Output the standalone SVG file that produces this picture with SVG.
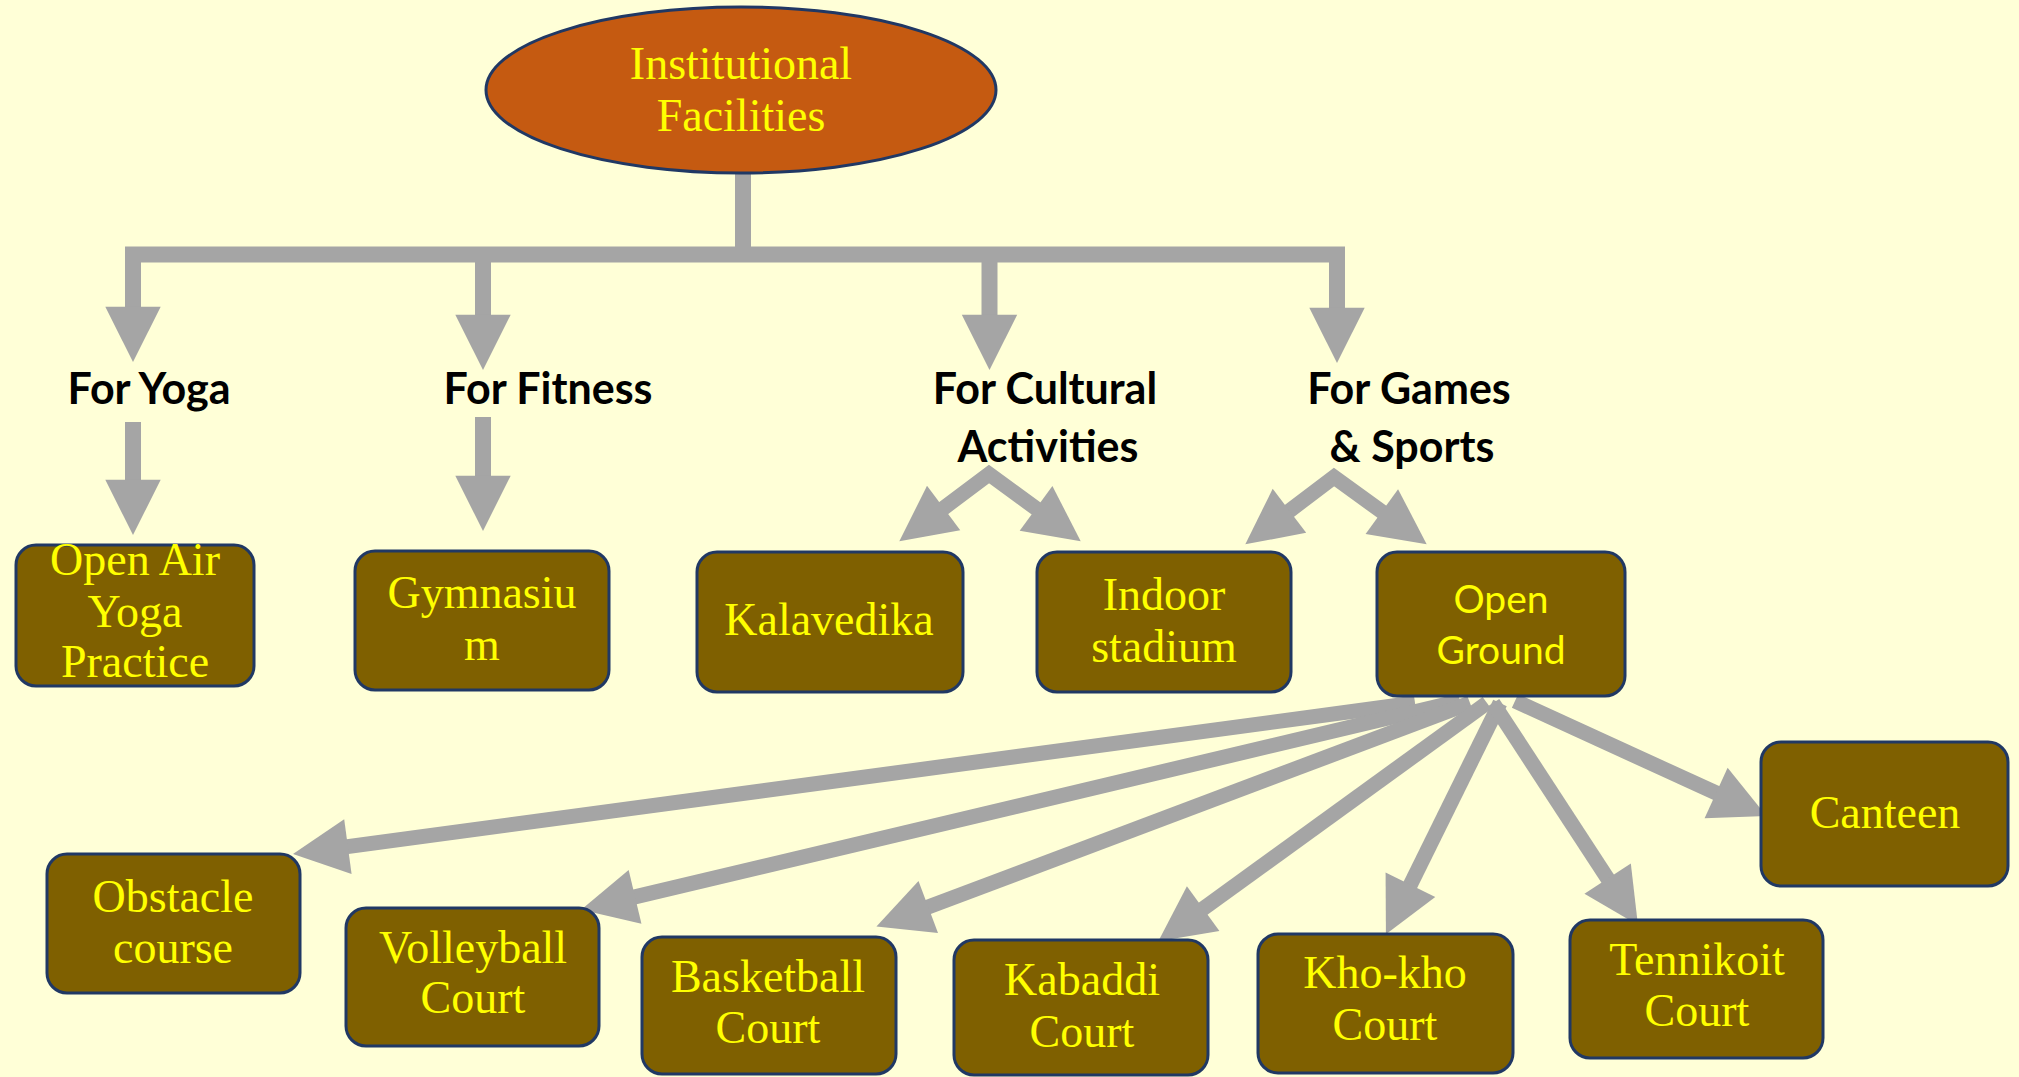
<svg xmlns="http://www.w3.org/2000/svg" width="2019" height="1077" viewBox="0 0 2019 1077">
<defs>
<marker id="head" markerUnits="userSpaceOnUse" markerWidth="60" markerHeight="60" refX="0" refY="0" viewBox="-3 -25 52 50" orient="auto-start-reverse" overflow="visible">
<path d="M-2,-24 L46,0 L-2,24 Z" fill="#A5A5A5"/>
</marker>
<style>
.bg{fill:#FFFFD7}
.box{fill:#7F6000;stroke:#203864;stroke-width:3}
.oval{fill:#C55A11;stroke:#203864;stroke-width:3}
.t{font-family:"Liberation Serif","DejaVu Serif",serif;font-size:46px;fill:#FFFF00;text-anchor:middle}
.ts{font-family:Lato,"Liberation Sans",sans-serif;font-size:39px;fill:#FFFF00;text-anchor:middle}
.lbl{font-family:Lato,"Liberation Sans",sans-serif;font-size:43px;font-weight:bold;fill:#000000;text-anchor:middle}
.c{stroke:#A5A5A5;fill:none;stroke-linejoin:miter;stroke-miterlimit:10}
.w16{stroke-width:16}
.w14{stroke-width:15}
.w13{stroke-width:15}
.a{marker-end:url(#head)}
</style>
</defs>
<rect class="bg" x="0" y="0" width="2019" height="1077"/>

<g id="connectors">
<line class="c w16" x1="743" y1="164" x2="743" y2="256"/>
<line class="c w16" x1="125" y1="254.5" x2="1345" y2="254.5"/>
<line class="c w16 a" x1="133" y1="254" x2="133" y2="309"/>
<line class="c w16 a" x1="483" y1="254" x2="483" y2="317"/>
<line class="c w16 a" x1="989.5" y1="254" x2="989.5" y2="317"/>
<line class="c w16 a" x1="1337" y1="254" x2="1337" y2="310"/>
<line class="c w16 a" x1="133" y1="422" x2="133" y2="482"/>
<line class="c w16 a" x1="483" y1="417" x2="483" y2="478"/>
<path class="c w14" d="M941.8,509.4 L989,474 L1037.9,509.8" marker-start="url(#head)" marker-end="url(#head)"/>
<path class="c w14" d="M1287.6,512.2 L1334,477 L1383.7,513" marker-start="url(#head)" marker-end="url(#head)"/>
<line class="c w13 a" x1="1415" y1="703" x2="345.6" y2="846.9"/>
<line class="c w13 a" x1="1460" y1="701" x2="632.8" y2="897.4"/>
<line class="c w13 a" x1="1470" y1="703" x2="926.1" y2="907.8"/>
<line class="c w13 a" x1="1487" y1="703" x2="1201.3" y2="910"/>
<line class="c w13 a" x1="1500" y1="703" x2="1409.4" y2="886.7"/>
<line class="c w13 a" x1="1493" y1="703" x2="1608.9" y2="880.5"/>
<line class="c w13 a" x1="1515" y1="701" x2="1718.2" y2="793.9"/>
</g>

<g id="root">
<ellipse class="oval" cx="741" cy="90" rx="255" ry="83"/>
<text class="t" x="741" y="79">Institutional</text>
<text class="t" x="741" y="131">Facilities</text>
</g>

<g id="for-yoga"><text class="lbl" x="149" y="404">For Yoga</text></g>
<g id="for-fitness"><text class="lbl" x="548" y="404">For Fitness</text></g>
<g id="for-cultural"><text class="lbl" x="1045" y="404">For Cultural</text><text class="lbl" x="1048" y="462">Activities</text></g>
<g id="for-games"><text class="lbl" x="1409" y="404">For Games</text><text class="lbl" x="1412" y="462">&amp; Sports</text></g>

<g id="open-air-yoga"><rect class="box" x="16" y="545" width="238" height="141" rx="20"/>
<text class="t" x="135" y="575">Open Air</text><text class="t" x="135" y="627">Yoga</text><text class="t" x="135" y="677">Practice</text></g>
<g id="gymnasium"><rect class="box" x="355" y="551" width="254" height="139" rx="20"/>
<text class="t" x="482" y="608">Gymnasiu</text><text class="t" x="482" y="660">m</text></g>
<g id="kalavedika"><rect class="box" x="697" y="552" width="266" height="140" rx="20"/>
<text class="t" x="829" y="635">Kalavedika</text></g>
<g id="indoor-stadium"><rect class="box" x="1037" y="552" width="254" height="140" rx="20"/>
<text class="t" x="1164" y="610">Indoor</text><text class="t" x="1164" y="662">stadium</text></g>
<g id="open-ground"><rect class="box" x="1377" y="552" width="248" height="144" rx="20"/>
<text class="ts" x="1501" y="613">Open</text><text class="ts" x="1501" y="664">Ground</text></g>

<g id="obstacle-course"><rect class="box" x="47" y="854" width="253" height="139" rx="20"/>
<text class="t" x="173" y="912">Obstacle</text><text class="t" x="173" y="963">course</text></g>
<g id="volleyball-court"><rect class="box" x="346" y="908" width="253" height="138" rx="20"/>
<text class="t" x="473" y="963">Volleyball</text><text class="t" x="473" y="1013">Court</text></g>
<g id="basketball-court"><rect class="box" x="642" y="937" width="254" height="137" rx="20"/>
<text class="t" x="768" y="992">Basketball</text><text class="t" x="768" y="1043">Court</text></g>
<g id="kabaddi-court"><rect class="box" x="954" y="940" width="254" height="135" rx="20"/>
<text class="t" x="1082" y="995">Kabaddi</text><text class="t" x="1082" y="1047">Court</text></g>
<g id="kho-kho-court"><rect class="box" x="1258" y="934" width="255" height="139" rx="20"/>
<text class="t" x="1385" y="988">Kho-kho</text><text class="t" x="1385" y="1040">Court</text></g>
<g id="tennikoit-court"><rect class="box" x="1570" y="920" width="253" height="138" rx="20"/>
<text class="t" x="1697" y="975">Tennikoit</text><text class="t" x="1697" y="1026">Court</text></g>
<g id="canteen"><rect class="box" x="1761" y="742" width="247" height="144" rx="20"/>
<text class="t" x="1885" y="828">Canteen</text></g>
</svg>
